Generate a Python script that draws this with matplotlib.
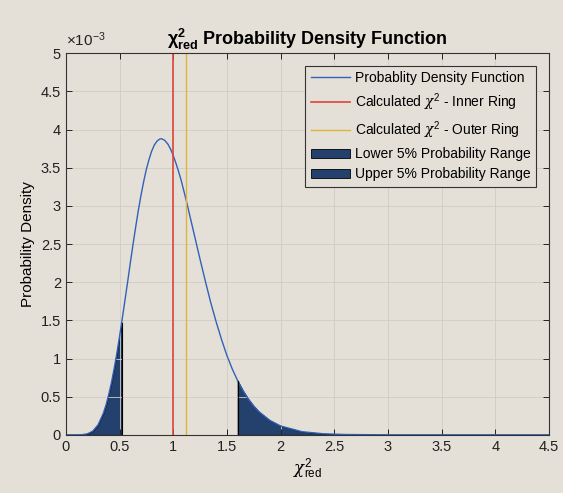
import matplotlib
matplotlib.use('Agg')
import matplotlib.pyplot as plt
from matplotlib.ticker import FuncFormatter, MultipleLocator

plt.rcParams['font.family'] = ['Liberation Sans', 'DejaVu Sans']
plt.rcParams['mathtext.fontset'] = 'custom'
plt.rcParams['mathtext.rm'] = 'Liberation Sans'
plt.rcParams['mathtext.it'] = 'DejaVu Serif:italic'
plt.rcParams['mathtext.bf'] = 'Liberation Sans:bold'

# values (reduced chi^2 vs probability density)
chi_x = [0.0, 0.05, 0.1, 0.15, 0.2, 0.25, 0.3, 0.35, 0.375, 0.4, 0.425,
         0.45, 0.475, 0.5, 0.52, 0.55, 0.575, 0.6, 0.625, 0.65, 0.675, 0.7,
         0.725, 0.75, 0.775, 0.8, 0.825, 0.85, 0.875, 0.89, 0.92, 0.95,
         0.975, 1.0, 1.025, 1.05, 1.075, 1.1, 1.125, 1.15, 1.175, 1.2, 1.25,
         1.3, 1.35, 1.4, 1.45, 1.5, 1.55, 1.6, 1.65, 1.7, 1.75, 1.8, 1.9,
         2.0, 2.2, 2.4, 2.6, 3.0, 3.5, 4.0, 4.5]
pdf_y = [0.0, 0.0, 1.2e-7, 2e-6, 1.26e-5, 4.8e-5, 1.31e-4, 2.86e-4, 3.97e-4,
         5.31e-4, 6.89e-4, 8.70e-4, 1.07e-3, 1.29e-3, 1.47e-3, 1.76e-3,
         2.00e-3, 2.25e-3, 2.49e-3, 2.72e-3, 2.94e-3, 3.14e-3, 3.32e-3,
         3.48e-3, 3.61e-3, 3.72e-3, 3.80e-3, 3.85e-3, 3.876e-3, 3.88e-3,
         3.86e-3, 3.81e-3, 3.745e-3, 3.66e-3, 3.56e-3, 3.45e-3, 3.33e-3,
         3.19e-3, 3.05e-3, 2.90e-3, 2.75e-3, 2.60e-3, 2.30e-3, 2.01e-3,
         1.73e-3, 1.48e-3, 1.25e-3, 1.04e-3, 8.63e-4, 7.10e-4, 5.79e-4,
         4.69e-4, 3.77e-4, 3.01e-4, 1.89e-4, 1.16e-4, 4.1e-5, 1.36e-5, 4.3e-6,
         0.0, 0.0, 0.0, 0.0]
lower_cut = 0.52
upper_cut = 1.6
inner_chi2 = 1.0
outer_chi2 = 1.12

paper = '#e4e0d8'
fig = plt.figure(figsize=(5.63, 4.93), dpi=100, facecolor=paper)
ax = fig.add_axes([0.117, 0.118, 0.858, 0.774], facecolor=paper)

low_x = [x for x in chi_x if x <= lower_cut]
low_y = pdf_y[:len(low_x)]
up_x = [x for x in chi_x if x >= upper_cut]
up_y = pdf_y[len(chi_x) - len(up_x):]

ax.plot(chi_x, pdf_y, color='#2f62b8', lw=1.0, label='Probablity Density Function')
ax.axvline(inner_chi2, color='#e0443a', lw=1.2, label=r'Calculated $\chi^2$ - Inner Ring')
ax.axvline(outer_chi2, color='#e0b43a', lw=1.0, label=r'Calculated $\chi^2$ - Outer Ring')
ax.fill_between(low_x, low_y, color='#24406c', edgecolor='black', lw=0.6,
                label='Lower 5% Probability Range')
ax.fill_between(up_x, up_y, color='#24406c', edgecolor='black', lw=0.6,
                label='Upper 5% Probability Range')
ax.plot([lower_cut, lower_cut], [0, low_y[-1]], color='black', lw=0.8)
ax.plot([upper_cut, upper_cut], [0, up_y[0]], color='black', lw=0.8)

ax.set_xlim(0, 4.5)
ax.set_ylim(0, 5e-3)
ax.xaxis.set_major_locator(MultipleLocator(0.5))
ax.yaxis.set_major_locator(MultipleLocator(0.5e-3))
ax.xaxis.set_major_formatter(FuncFormatter(lambda v, p: f'{v:g}'))
ax.yaxis.set_major_formatter(FuncFormatter(lambda v, p: f'{v*1e3:g}'))
ax.tick_params(direction='in', top=True, right=True, labelsize=10.5,
               length=4, width=0.7, colors='#222222')
ax.grid(True, color='#d0ccc4', lw=0.6)
for s in ax.spines.values():
    s.set_linewidth(0.8)
    s.set_color('#333333')

ax.text(0.0, 1.01, r'$\times10^{-3}$', transform=ax.transAxes, fontsize=11,
        ha='left', va='bottom', color='#222222')
ax.set_title(r'$\mathbf{\chi^2_{red}}$ Probability Density Function',
             fontsize=13, fontweight='bold', pad=6)
ax.set_xlabel(r'$\chi^2_{\mathrm{red}}$', fontsize=12, labelpad=2)
ax.set_ylabel('Probability Density', fontsize=11, labelpad=4)

leg = ax.legend(loc='upper right', fontsize=10, fancybox=False, framealpha=1,
                facecolor=paper, edgecolor='#333333', handlelength=2.8,
                borderaxespad=0.9, labelspacing=0.45, handletextpad=0.4)
leg.get_frame().set_linewidth(0.8)

fig.savefig('out.png', dpi=100, facecolor=paper)
